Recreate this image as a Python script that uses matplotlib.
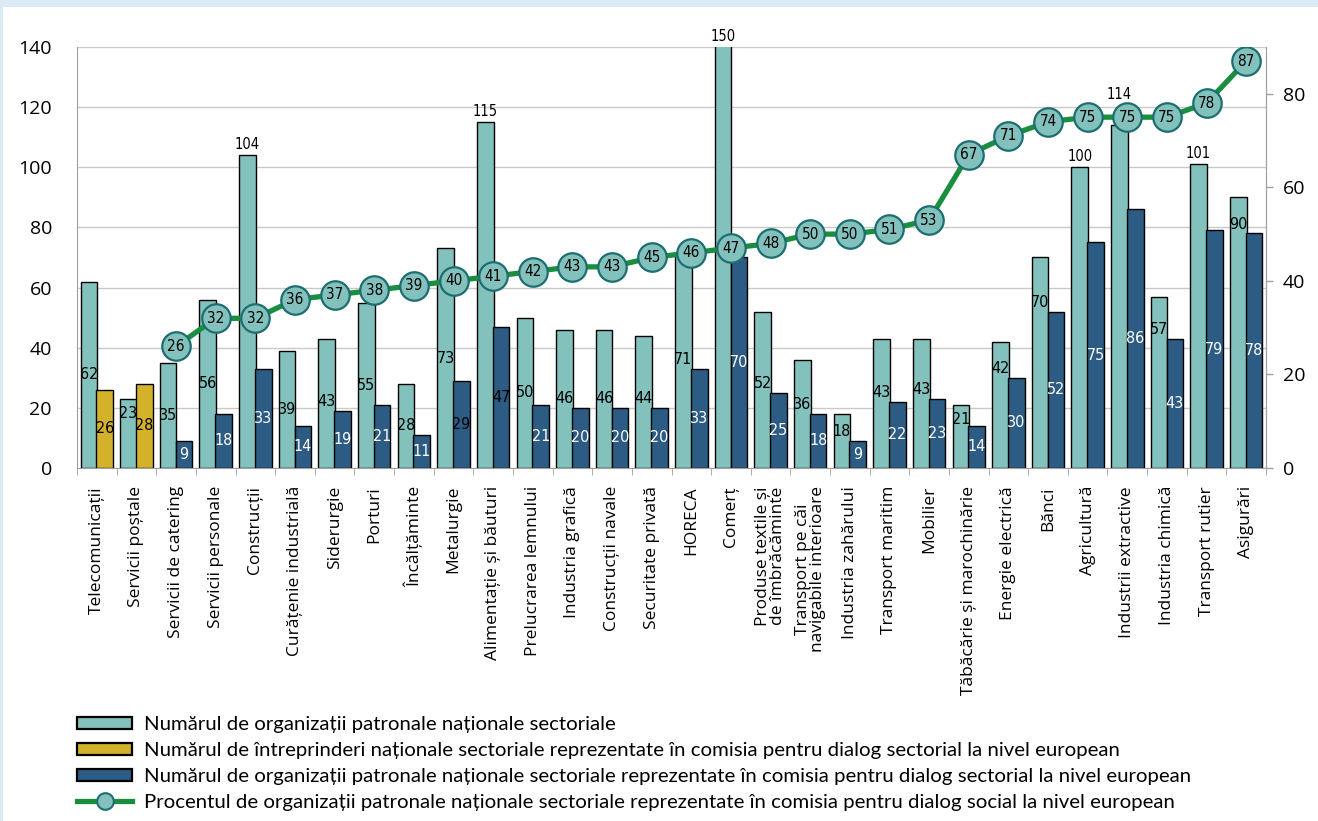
import matplotlib
matplotlib.use("Agg")
import matplotlib.pyplot as plt
import numpy as np
from matplotlib.lines import Line2D
from matplotlib.patches import Patch, Rectangle

categories = [
    "Telecomunicații", "Servicii poștale", "Servicii de catering", "Servicii personale",
    "Construcții", "Curățenie industrială", "Siderurgie", "Porturi", "Încălțăminte",
    "Metalurgie", "Alimentație și băuturi", "Prelucrarea lemnului", "Industria grafică",
    "Construcții navale", "Securitate privată", "HORECA", "Comerț",
    "Produse textile și\nde îmbrăcăminte", "Transport pe căi\nnavigabile interioare",
    "Industria zahărului", "Transport maritim", "Mobilier", "Tăbăcărie și marochinărie",
    "Energie electrică", "Bănci", "Agricultură", "Industrii extractive",
    "Industria chimică", "Transport rutier", "Asigurări",
]
total_orgs = [62, 23, 35, 56, 104, 39, 43, 55, 28, 73, 115, 50, 46, 46, 44, 71, 150,
              52, 36, 18, 43, 43, 21, 42, 70, 100, 114, 57, 101, 90]
# yellow series only exists for the first two sectors
enterprises = [26, 28] + [np.nan] * 28
represented = [np.nan, np.nan, 9, 18, 33, 14, 19, 21, 11, 29, 47, 21, 20, 20, 20, 33, 70,
               25, 18, 9, 22, 23, 14, 30, 52, 75, 86, 43, 79, 78]
percent = [np.nan, np.nan, 26, 32, 32, 36, 37, 38, 39, 40, 41, 42, 43, 43, 45, 46, 47,
           48, 50, 50, 51, 53, 67, 71, 74, 75, 75, 75, 78, 87]

legend_labels = [
    "Numărul de organizații patronale naționale sectoriale",
    "Numărul de întreprinderi naționale sectoriale reprezentate în comisia pentru dialog sectorial la nivel european",
    "Numărul de organizații patronale naționale sectoriale reprezentate în comisia pentru dialog sectorial la nivel european",
    "Procentul de organizații patronale naționale sectoriale reprezentate în comisia pentru dialog social la nivel european",
]

TEAL = "#83c1bd"
GOLD = "#d3b12b"
NAVY = "#2c5b84"
GREEN = "#1a8e3f"
RING = "#1d6e70"
BG = "#dbebf5"

LEFT_MAX = 140
RIGHT_MAX = 90

plt.rcParams["font.family"] = ["Open Sans", "DejaVu Sans"]
tick_font = ["Open Sans", "DejaVu Sans"]

fig = plt.figure(figsize=(13.18, 8.21), dpi=100, facecolor=BG)
fig.patches.append(Rectangle((3 / 1318, 0), 1, 1 - 7 / 821, transform=fig.transFigure,
                             facecolor="white", edgecolor="none", zorder=-10))

ax = fig.add_axes([77 / 1318, 1 - 468 / 821, (1266 - 77) / 1318, (468 - 47) / 821])
ax.set_facecolor("none")
ax2 = ax.twinx()

x = np.arange(len(categories))
w = 0.42
tot = np.array(total_orgs, dtype=float)
ent = np.array(enterprises, dtype=float)
rep = np.array(represented, dtype=float)
pct = np.array(percent, dtype=float)

ax.bar(x - 0.2, tot, w, color=TEAL, edgecolor="black", linewidth=1.0, zorder=2)
ax.bar(x + 0.2, ent, w, color=GOLD, edgecolor="black", linewidth=1.0, zorder=2)
ax.bar(x + 0.2, rep, w, color=NAVY, edgecolor="black", linewidth=1.0, zorder=2)

ax.set_xlim(-0.5, len(categories) - 0.5)
ax.set_ylim(0, LEFT_MAX)
ax2.set_ylim(0, RIGHT_MAX)

val_font = dict(family="DejaVu Sans", fontstretch="condensed")
black_navy = {9, 10}  # navy labels drawn in black in the original

for i in range(len(categories)):
    v = tot[i]
    other = ent[i] if not np.isnan(ent[i]) else rep[i]
    if v >= 100:
        top = min(v, LEFT_MAX)
        ypos = top + 1.0
        if not np.isnan(pct[i]):
            eq = pct[i] * LEFT_MAX / RIGHT_MAX
            if abs(eq - v) < 10:
                ypos = eq + 5.0
        ax.text(x[i] - 0.2, ypos, f"{int(v)}", ha="center", va="bottom",
                fontsize=10.5, color="black", zorder=5, **val_font)
    else:
        ypos = max(v / 2, min(other + 3, v - 5))
        ax.text(x[i] - 0.2, ypos, f"{int(v)}", ha="center", va="center",
                fontsize=11.5, color="black", zorder=5, **val_font)
    if not np.isnan(other):
        col = "black" if (i in black_navy or not np.isnan(ent[i])) else "white"
        ax.text(x[i] + 0.2, other / 2, f"{int(other)}", ha="center", va="center",
                fontsize=11.5, color=col, zorder=5, **val_font)

ax2.plot(x, pct, color=GREEN, linewidth=3.8, marker="o", markersize=20.5,
         markerfacecolor=TEAL, markeredgecolor=RING, markeredgewidth=1.6, zorder=3)
for i in range(len(categories)):
    if not np.isnan(pct[i]):
        ax2.text(x[i], pct[i], f"{int(pct[i])}", ha="center", va="center",
                 fontsize=11, color="black", zorder=6, **val_font)

# grid and axes
ax.set_axisbelow(True)
ax.yaxis.grid(True, color="#c9c9c9", linewidth=1.0)
ax.set_yticks(np.arange(0, LEFT_MAX + 1, 20))
ax.tick_params(axis="y", length=0, pad=18, labelsize=14)
ax2.set_yticks(np.arange(0, 81, 20))
ax2.tick_params(axis="y", length=5, width=1, color="#a0a0a0", pad=7, labelsize=14)

ax.set_xticks(x)
ax.set_xticklabels(categories, rotation=90, fontsize=12.5, va="top", ha="center",
                   linespacing=0.95, family=tick_font)
ax.set_xticks(np.arange(-0.5, len(categories), 1), minor=True)
ax.tick_params(axis="x", which="major", length=0, pad=13)
ax.tick_params(axis="x", which="minor", length=5, color="#a0a0a0")
for lab in ax.get_yticklabels() + ax2.get_yticklabels():
    lab.set_family(tick_font)

for a in (ax, ax2):
    a.spines["top"].set_visible(False)
    for s in ("left", "right", "bottom"):
        a.spines[s].set_color("#a0a0a0")
ax2.spines["left"].set_visible(False)
ax2.spines["bottom"].set_visible(False)

handles = [
    Patch(facecolor=TEAL, edgecolor="black", linewidth=1.6),
    Patch(facecolor=GOLD, edgecolor="black", linewidth=1.6),
    Patch(facecolor=NAVY, edgecolor="black", linewidth=1.6),
    Line2D([0], [0], color=GREEN, linewidth=3.8, marker="o", markersize=12,
           markerfacecolor=TEAL, markeredgecolor=RING, markeredgewidth=1.5),
]
fig.legend(handles, legend_labels, loc="upper left",
           bbox_to_anchor=(77 / 1318, 1 - 716 / 821), frameon=False,
           prop={"family": "Lato", "size": 14.7}, handlelength=2.7, handleheight=0.55,
           labelspacing=0.44, handletextpad=0.6, borderaxespad=0, borderpad=0)

fig.savefig("out.png", dpi=100, facecolor=BG)
